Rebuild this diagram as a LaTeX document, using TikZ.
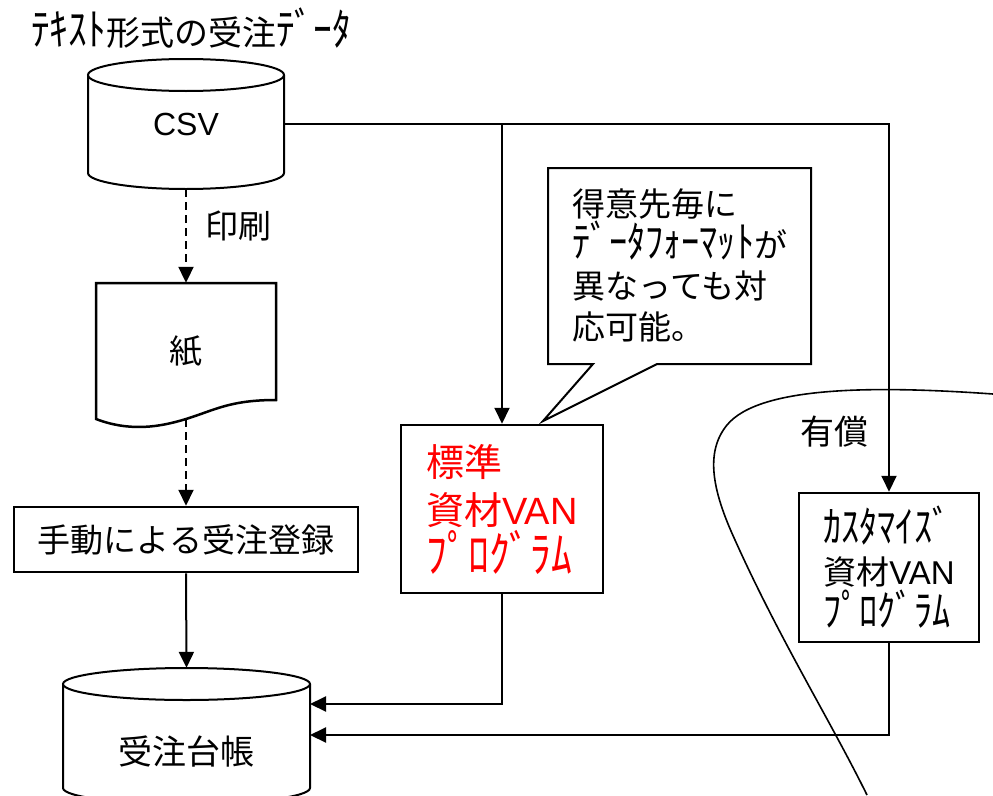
\documentclass[tikz,border=0pt]{standalone}
\usepackage{fontspec}
\usepackage{graphicx}
\setmainfont{Noto Sans CJK JP}
\newfontfamily\latfont{Liberation Sans}
\newcommand{\hk}[1]{\scalebox{1.1}[1.3]{#1}}
\usetikzlibrary{arrows.meta}
\begin{document}
\begin{tikzpicture}[x=1pt,y=-1pt,
  arr/.style={line width=2pt,-{Triangle[length=16pt,width=15pt]}},
  dasharr/.style={arr,dash pattern=on 8pt off 5pt},
  boxst/.style={draw,line width=2.5pt,fill=white,inner sep=0pt},
  shapeline/.style={line width=2pt,fill=white},
  txt/.style={inner sep=0pt,font=\fontsize{33}{41}\selectfont},
]
\useasboundingbox (0,0) rectangle (993,795);
\clip (0,0) rectangle (993,795);

% boundary curve of the paid area
\draw[line width=1.6pt] (993,394) .. controls (880,386) and (760,385) .. (727,425)
  .. controls (705,452) and (712,490) .. (735,540)
  .. controls (780,640) and (830,720) .. (867,795);

% title
\node[anchor=west,inner sep=0pt,font=\fontsize{34}{34}\selectfont] (title) at (31,28) {\hk{ﾃｷｽﾄ}形式の受注\hk{ﾃﾞｰﾀ}};

% CSV cylinder
\draw[shapeline] (88,75) -- (88,173) .. controls (88,181.8) and (132,189) .. (186,189)
  .. controls (240,189) and (284,181.8) .. (284,173) -- (284,75);
\draw[shapeline] (186,75) ellipse [x radius=98,y radius=16];
\node[inner sep=0pt,minimum width=196pt,minimum height=130pt,font=\latfont\fontsize{32}{32}\selectfont] (csv) at (186,124) {CSV};

% print label
\node[txt,anchor=west] (print) at (205,226) {印刷};

% paper (document shape)
\draw[line width=2.5pt,fill=white] (96,283) -- (276,283) -- (276,400)
  .. controls (230,400) and (215,410) .. (186,419)
  .. controls (160,427) and (130,432) .. (96,419) -- cycle;
\node[txt,minimum width=180pt,minimum height=136pt] (paper) at (186,351) {紙};

% manual order entry
\node[boxst,txt,minimum width=344pt,minimum height=65pt] (manual) at (186,539.5) {手動による受注登録};

% ledger cylinder
\draw[shapeline] (63,684) -- (63,788) .. controls (63,796.8) and (118.7,804) .. (186.5,804)
  .. controls (254.3,804) and (310,796.8) .. (310,788) -- (310,684);
\draw[shapeline] (186.5,684) ellipse [x radius=123.5,y radius=16];
\node[inner sep=0pt,minimum width=247pt,minimum height=136pt] (ledger) at (186.5,736) {};
\node[txt,font=\fontsize{34}{34}\selectfont] (ledgertext) at (186.5,752) {受注台帳};
\coordinate (ledgerA) at (310,704);
\coordinate (ledgerB) at (310,735);

% standard program
\node[boxst,align=left,text=red,minimum width=202pt,minimum height=168pt,
  font=\fontsize{38}{48}\selectfont] (std) at (502,509) {標準\\資材{\latfont VAN}\\\hk{ﾌﾟﾛｸﾞﾗﾑ}};

% customized program
\node[boxst,align=left,minimum width=180pt,minimum height=149pt,
  font=\fontsize{33}{42}\selectfont] (cust) at (889,567.5) {\hk{ｶｽﾀﾏｲｽﾞ}\\資材{\latfont VAN}\\\hk{ﾌﾟﾛｸﾞﾗﾑ}};

% callout
\draw[line width=2pt,fill=white] (548,168) -- (811,168) -- (811,364) -- (657,364)
  -- (543,421) -- (593,364) -- (548,364) -- cycle;
\node[txt,align=left] (note) at (680,265) {得意先毎に\\\hk{ﾃﾞｰﾀﾌｫｰﾏｯﾄ}が\\異なっても対\\応可能。};

% paid label
\node[txt,font=\fontsize{34}{34}\selectfont] (paid) at (834,432) {有償};

% connectors
\draw[arr] (csv.east) -| (cust.north);
\draw[arr] (csv.east -| std.north) -- (std.north);
\draw[dasharr] (csv.south) -- (paper.north);
\draw[dasharr] (paper.south) -- (manual.north);
\draw[arr] (manual.south) -- (ledger.north);
\draw[arr] (std.south) |- (ledgerA);
\draw[arr] (cust.south) |- (ledgerB);
\end{tikzpicture}
\end{document}
